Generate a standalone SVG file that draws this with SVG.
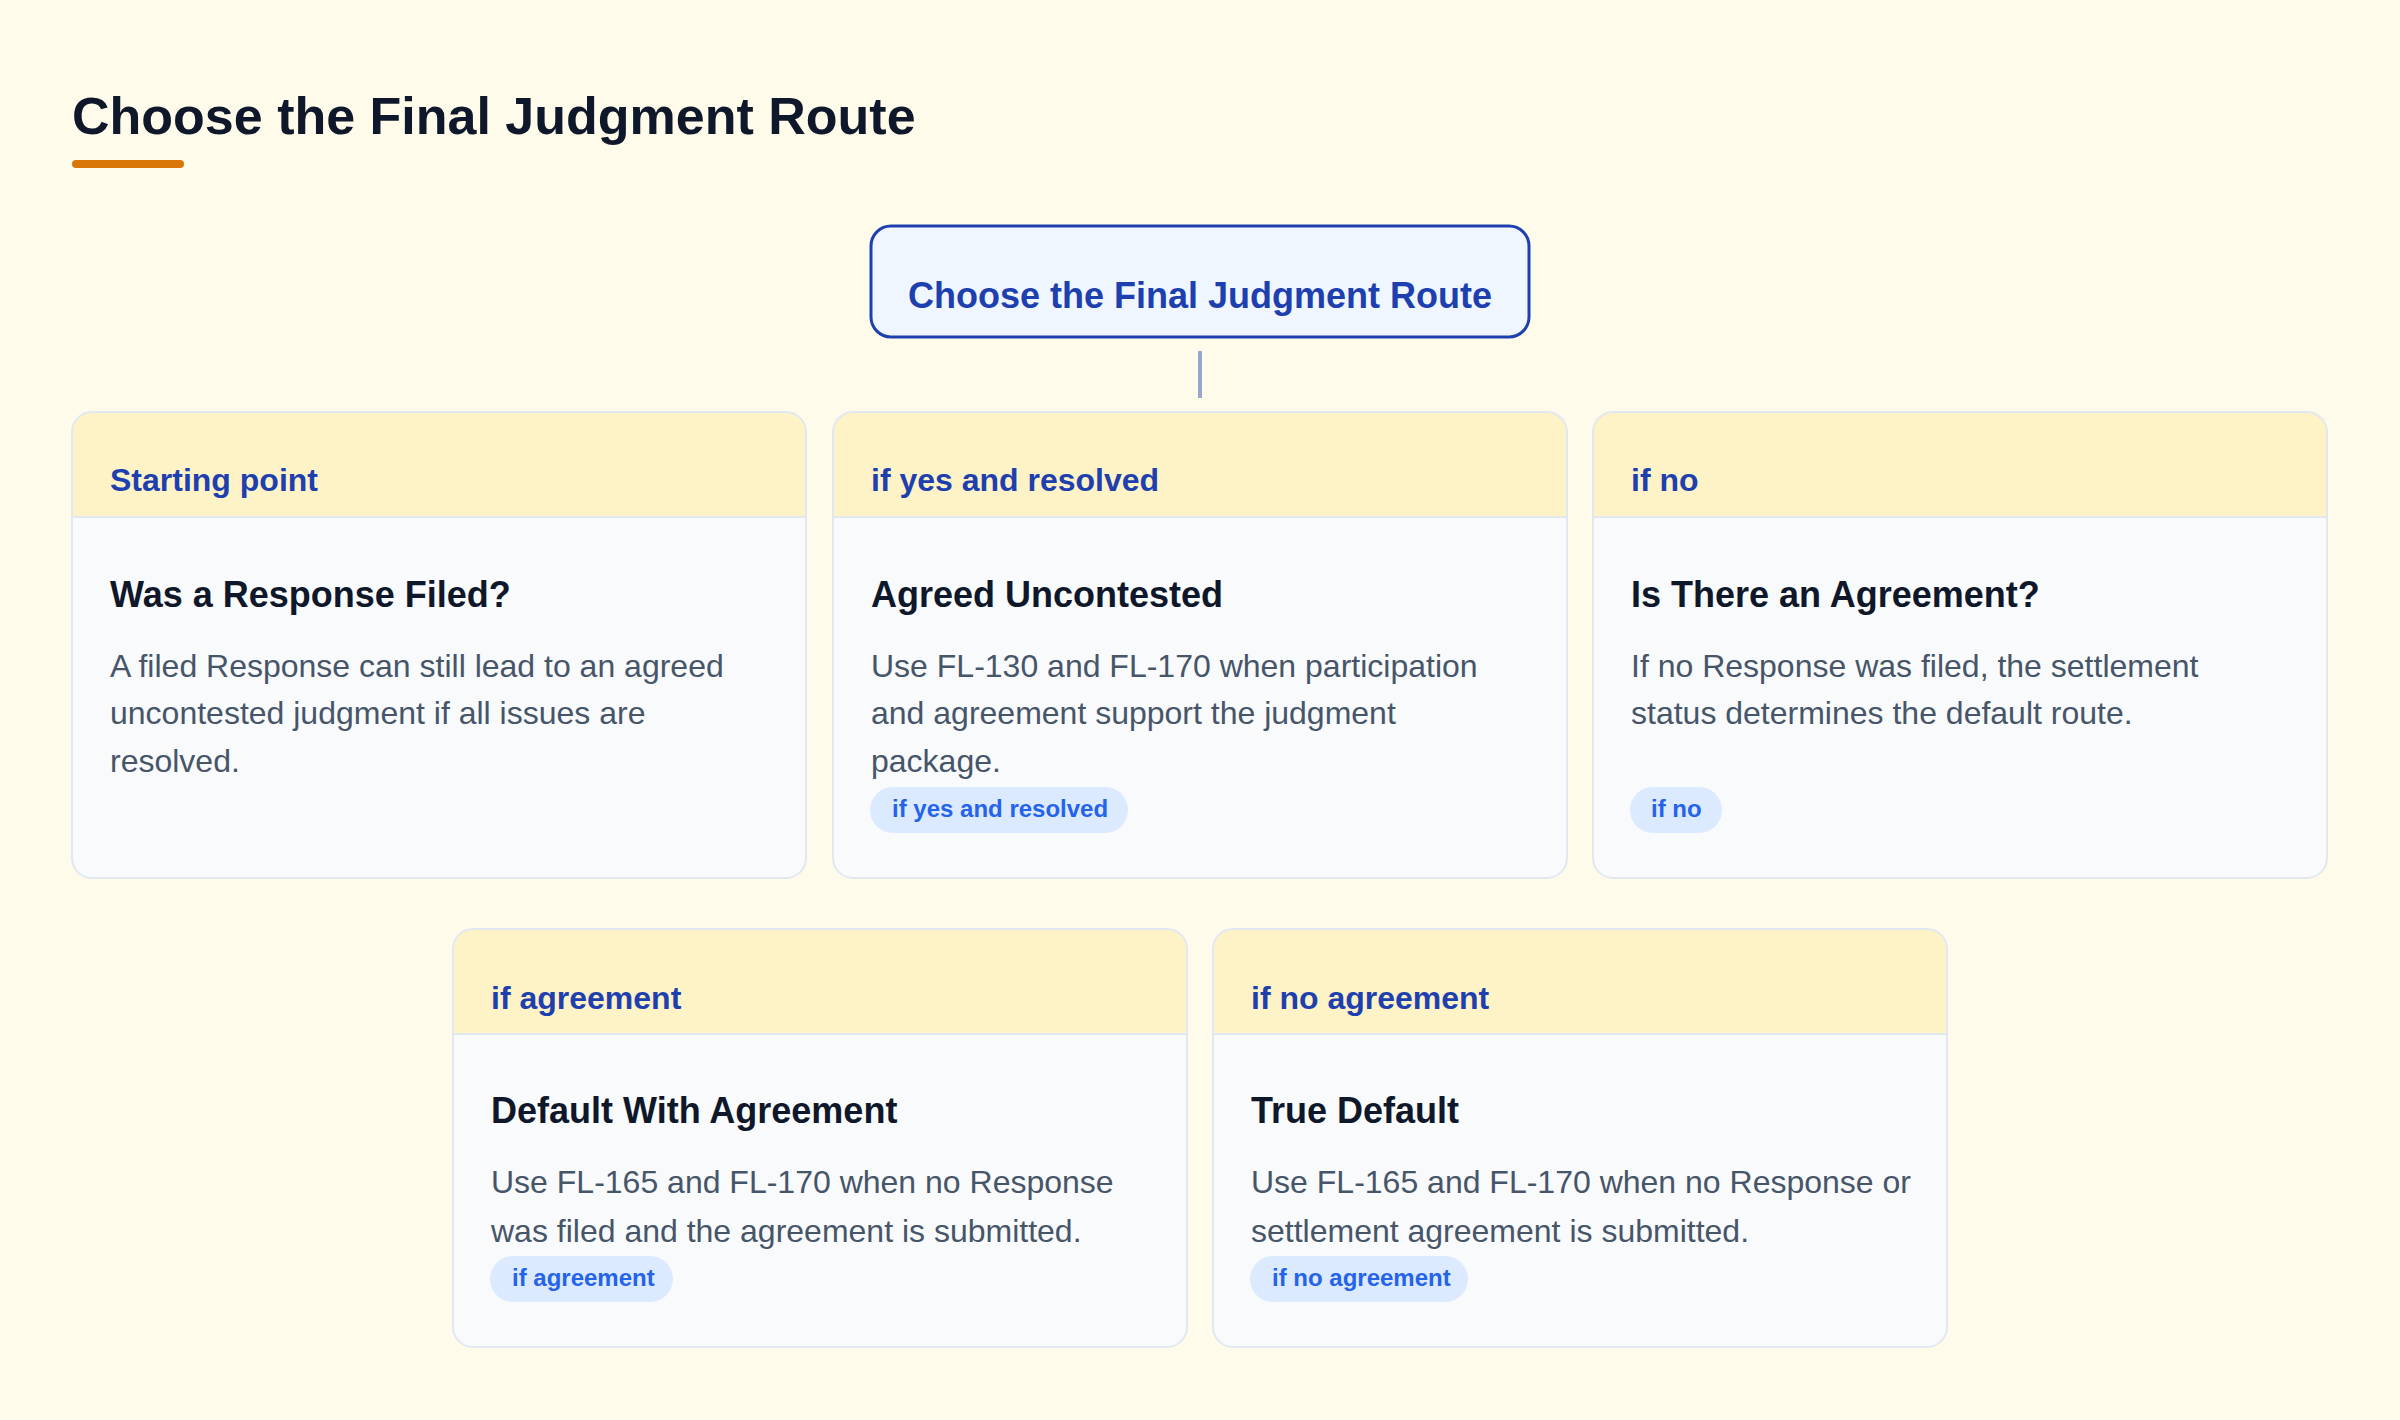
<svg xmlns="http://www.w3.org/2000/svg" width="2400" height="1420" viewBox="0 0 2400 1420">
<style>
.bg{fill:#fffbeb}
.title{font-family:"Liberation Sans",Arial,sans-serif;font-weight:700;font-size:52px;fill:#0f172a}
.root-box{fill:#eff6ff;stroke:#1e40af;stroke-width:3}
.root-text{font-family:"Liberation Sans",Arial,sans-serif;font-weight:700;font-size:36px;fill:#1e40af}
.card-body{fill:#f8fafc}
.card-head{fill:#fef3c7}
.card-line{stroke:#e2e8f0;stroke-width:2}
.card-outline{fill:none;stroke:#e2e8f0;stroke-width:2}
.head-text{font-family:"Liberation Sans",Arial,sans-serif;font-weight:700;font-size:32px;fill:#1e40af}
.card-title{font-family:"Liberation Sans",Arial,sans-serif;font-weight:700;font-size:36px;fill:#0f172a}
.card-desc{font-family:"Liberation Sans",Arial,sans-serif;font-weight:400;font-size:32px;fill:#475569}
.badge{fill:#dbeafe}
.badge-text{font-family:"Liberation Sans",Arial,sans-serif;font-weight:700;font-size:24px;fill:#2563eb}
.conn{stroke:#98a6cf;stroke-width:4;fill:none}
</style>
<rect class="bg" x="0" y="0" width="2400" height="1420"/>
<g id="page-title">
<text class="title" x="72" y="134">Choose the Final Judgment Route</text>
<rect x="72" y="160" width="112" height="8" rx="4" fill="#d97706"/>
</g>
<g id="connectors">
<line class="conn" x1="1200" y1="351" x2="1200" y2="398"/>
</g>
<g id="root">
<rect class="root-box" x="871" y="226" width="658" height="111" rx="20"/>
<text class="root-text" x="1200" y="308" text-anchor="middle">Choose the Final Judgment Route</text>
</g>
<g id="card-response-filed">
<rect class="card-body" x="72" y="412" width="734" height="466" rx="20"/>
<path class="card-head" d="M72,517 V432 A20,20 0 0 1 92,412 H786 A20,20 0 0 1 806,432 V517 Z"/>
<line class="card-line" x1="72" y1="517" x2="806" y2="517"/>
<rect class="card-outline" x="72" y="412" width="734" height="466" rx="20"/>
<text class="head-text" x="110" y="491">Starting point</text>
<text class="card-title" x="110" y="607">Was a Response Filed?</text>
<text class="card-desc" x="110" y="677">A filed Response can still lead to an agreed</text>
<text class="card-desc" x="110" y="724">uncontested judgment if all issues are</text>
<text class="card-desc" x="110" y="772">resolved.</text>
</g>
<g id="card-agreed-uncontested">
<rect class="card-body" x="833" y="412" width="734" height="466" rx="20"/>
<path class="card-head" d="M833,517 V432 A20,20 0 0 1 853,412 H1547 A20,20 0 0 1 1567,432 V517 Z"/>
<line class="card-line" x1="833" y1="517" x2="1567" y2="517"/>
<rect class="card-outline" x="833" y="412" width="734" height="466" rx="20"/>
<text class="head-text" x="871" y="491">if yes and resolved</text>
<text class="card-title" x="871" y="607">Agreed Uncontested</text>
<text class="card-desc" x="871" y="677">Use FL-130 and FL-170 when participation</text>
<text class="card-desc" x="871" y="724">and agreement support the judgment</text>
<text class="card-desc" x="871" y="772">package.</text>
<rect class="badge" x="870" y="787" width="258" height="46" rx="23"/>
<text class="badge-text" x="892" y="817">if yes and resolved</text>
</g>
<g id="card-is-agreement">
<rect class="card-body" x="1593" y="412" width="734" height="466" rx="20"/>
<path class="card-head" d="M1593,517 V432 A20,20 0 0 1 1613,412 H2307 A20,20 0 0 1 2327,432 V517 Z"/>
<line class="card-line" x1="1593" y1="517" x2="2327" y2="517"/>
<rect class="card-outline" x="1593" y="412" width="734" height="466" rx="20"/>
<text class="head-text" x="1631" y="491">if no</text>
<text class="card-title" x="1631" y="607">Is There an Agreement?</text>
<text class="card-desc" x="1631" y="677">If no Response was filed, the settlement</text>
<text class="card-desc" x="1631" y="724">status determines the default route.</text>
<rect class="badge" x="1630" y="787" width="92" height="46" rx="23"/>
<text class="badge-text" x="1651" y="817">if no</text>
</g>
<g id="card-default-agreement">
<rect class="card-body" x="453" y="929" width="734" height="418" rx="20"/>
<path class="card-head" d="M453,1034 V949 A20,20 0 0 1 473,929 H1167 A20,20 0 0 1 1187,949 V1034 Z"/>
<line class="card-line" x1="453" y1="1034" x2="1187" y2="1034"/>
<rect class="card-outline" x="453" y="929" width="734" height="418" rx="20"/>
<text class="head-text" x="491" y="1009">if agreement</text>
<text class="card-title" x="491" y="1123">Default With Agreement</text>
<text class="card-desc" x="491" y="1193">Use FL-165 and FL-170 when no Response</text>
<text class="card-desc" x="491" y="1242">was filed and the agreement is submitted.</text>
<rect class="badge" x="490" y="1256" width="183" height="46" rx="23"/>
<text class="badge-text" x="512" y="1286">if agreement</text>
</g>
<g id="card-true-default">
<rect class="card-body" x="1213" y="929" width="734" height="418" rx="20"/>
<path class="card-head" d="M1213,1034 V949 A20,20 0 0 1 1233,929 H1927 A20,20 0 0 1 1947,949 V1034 Z"/>
<line class="card-line" x1="1213" y1="1034" x2="1947" y2="1034"/>
<rect class="card-outline" x="1213" y="929" width="734" height="418" rx="20"/>
<text class="head-text" x="1251" y="1009">if no agreement</text>
<text class="card-title" x="1251" y="1123">True Default</text>
<text class="card-desc" x="1251" y="1193">Use FL-165 and FL-170 when no Response or</text>
<text class="card-desc" x="1251" y="1242">settlement agreement is submitted.</text>
<rect class="badge" x="1250" y="1256" width="218" height="46" rx="23"/>
<text class="badge-text" x="1272" y="1286">if no agreement</text>
</g>
</svg>
